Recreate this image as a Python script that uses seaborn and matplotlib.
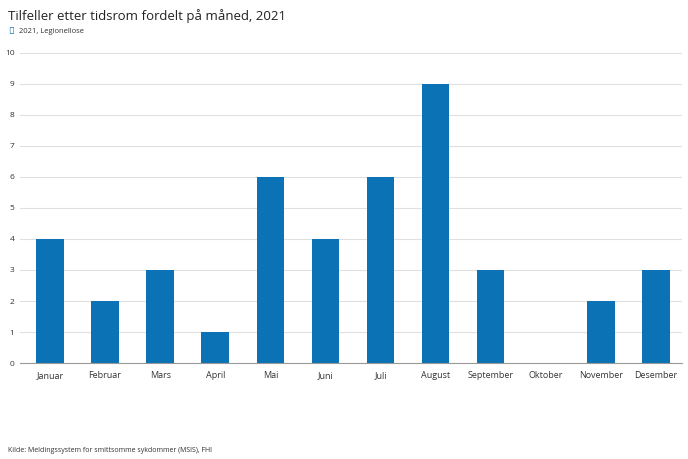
import matplotlib
matplotlib.use("Agg")
import matplotlib.pyplot as plt
import pandas as pd
import seaborn as sns

MONTHS = ["Januar", "Februar", "Mars", "April", "Mai", "Juni", "Juli",
          "August", "September", "Oktober", "November", "Desember"]
CASES = [4, 2, 3, 1, 6, 4, 6, 9, 3, 0, 2, 3]
SERIES = "2021, Legionellose"
COLOR = "#0b72b5"

df = pd.DataFrame({"month": MONTHS, "cases": CASES})

plt.rcParams["font.family"] = "Open Sans"
fig = plt.figure(figsize=(6.88, 4.59), dpi=100)
ax = fig.add_axes([0.029, 0.209, 0.962, 0.676])

sns.barplot(data=df, x="month", y="cases", color=COLOR, width=0.5,
            saturation=1, ax=ax)

ax.set_ylim(0, 10)
ax.set_xlim(-0.545, 11.47)
ax.set_yticks(range(0, 11))
ax.grid(axis="y", color="#e0e0e0", linewidth=0.8)
ax.set_axisbelow(True)
for s in ["top", "right", "left"]:
    ax.spines[s].set_visible(False)
ax.spines["bottom"].set_color("#999999")
ax.tick_params(axis="y", length=0, labelsize=6, colors="#333333", pad=4)
ax.tick_params(axis="x", length=0, labelsize=6.5, colors="#333333", pad=6)
ax.set_xlabel("")
ax.set_ylabel("")

fig.text(0.012, 0.965, "Tilfeller etter tidsrom fordelt på måned, 2021",
         fontsize=9.5, color="#222222", va="center")
fig.text(0.012, 0.931, "\u25CF", fontsize=7, color=COLOR, va="center")
fig.text(0.027, 0.931, SERIES, fontsize=5.5, color="#333333", va="center")
fig.text(0.012, 0.011, "Kilde: Meldingssystem for smittsomme sykdommer (MSIS), FHI",
         fontsize=5, color="#333333", va="bottom")

fig.savefig("out.png", dpi=100)
